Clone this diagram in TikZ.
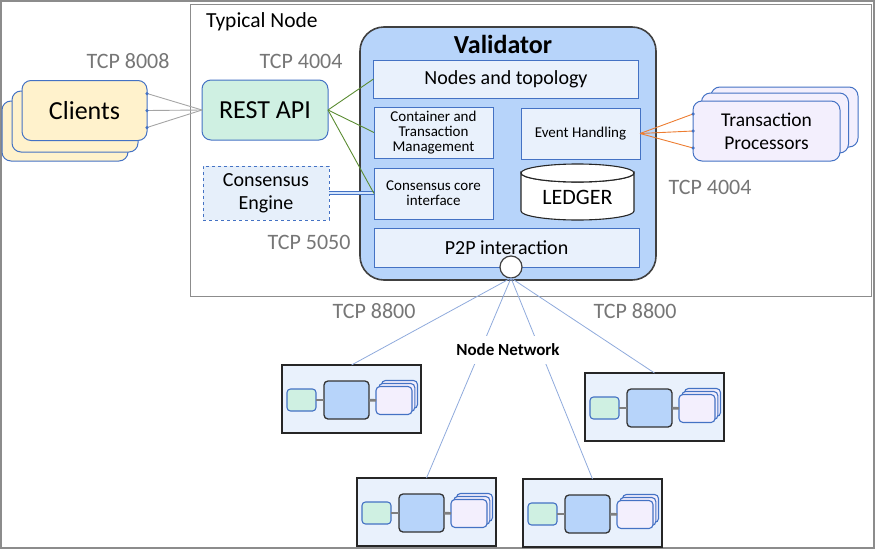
\documentclass[tikz,border=0pt]{standalone}
\usepackage{fontspec}
\setmainfont{Carlito}
\usetikzlibrary{calc}
\definecolor{valfill}{HTML}{B7D4FA}
\definecolor{innerfill}{HTML}{E9F1FC}
\definecolor{boxblue}{HTML}{4472C4}
\definecolor{clientfill}{HTML}{FFF2CC}
\definecolor{restfill}{HTML}{CFF0E2}
\definecolor{tpfill}{HTML}{F3EFFD}
\definecolor{cefill}{HTML}{E6EFFA}
\definecolor{valborder}{HTML}{404040}
\definecolor{tcpgray}{HTML}{767676}
\definecolor{greenline}{HTML}{5B8C32}
\definecolor{orangeline}{HTML}{ED7D31}
\definecolor{clientline}{HTML}{A5A5A5}
\definecolor{netline}{HTML}{8FAADC}
\definecolor{frameg}{HTML}{8C8C8C}
\definecolor{minilinkc}{HTML}{7F7F7F}
\tikzset{
  every node/.style={inner sep=0pt, outer sep=0pt},
  innerbox/.style={draw=boxblue, line width=1pt, fill=innerfill, align=center},
  fbig/.style={font=\fontsize{26}{30}\selectfont},
  fmid/.style={font=\fontsize{20}{24}\selectfont},
  fsmall/.style={font=\fontsize{15}{15}\selectfont},
  tcp/.style={text=tcpgray, font=\fontsize{22}{26}\selectfont},
  clientbox/.style={draw=boxblue, line width=1pt, fill=clientfill, rounded corners=9pt, minimum width=125, minimum height=60},
  tpbox/.style={draw=boxblue, line width=1pt, fill=tpfill, rounded corners=9pt, minimum width=147, minimum height=60, align=center},
  portdot/.style={fill=boxblue, circle, minimum size=3.5pt},
  clink/.style={draw=clientline, line width=0.9pt},
  glink/.style={draw=greenline, line width=0.9pt},
  olink/.style={draw=orangeline, line width=0.9pt},
  nlink/.style={draw=netline, line width=0.8pt},
  minibox/.style={draw=black!85, line width=1.8pt, fill=innerfill},
  minig/.style={draw=boxblue, line width=1.1pt, fill=restfill, rounded corners=3.5pt, minimum width=29, minimum height=22},
  miniv/.style={draw=black!80, line width=1.3pt, fill=valfill, rounded corners=4pt, minimum width=45, minimum height=38},
  minitp/.style={draw=boxblue, line width=1.1pt, fill=tpfill, rounded corners=4pt, minimum width=36, minimum height=28},
  minilink/.style={draw=minilinkc, line width=2.6pt},
  mininode/.pic={
    \node[minibox, anchor=north west, minimum width=139, minimum height=68] (-box) at (0,0) {};
    \node[minitp] (-t3) at (117.5,29.5) {};
    \node[minitp] (-t2) at (114.8,32.5) {};
    \node[minitp] (-t) at (112,35.5) {};
    \node[minig] (-g) at (19.5,35) {};
    \node[miniv] (-v) at (64.5,35) {};
    \draw[minilink] (-g) -- (-v);
    \draw[minilink] (-v) -- (-t);
  }
}
\begin{document}
\begin{tikzpicture}[x=1pt,y=-1pt]
\useasboundingbox (0,0) rectangle (875,549);
\draw[frameg, line width=1.5pt] (1,1) rectangle (874,548);

% Typical node frame
\node[draw=frameg, line width=1pt, minimum width=681, minimum height=292] (tn) at (530.5,150) {};
\node[anchor=west, font=\fontsize{21.5}{25}\selectfont] (tntitle) at (206,22) {Typical Node};

% Validator
\node[draw=valborder, fill=valfill, line width=1.6pt, rounded corners=24pt, minimum width=296, minimum height=253] (val) at (508,153.5) {};
\node[font=\bfseries\fontsize{26}{30}\selectfont] (valtitle) at (503,44) {Validator};
\node[innerbox, fmid, minimum width=265, minimum height=38] (nodes) at (506,79) {Nodes and topology};
\node[innerbox, fsmall, minimum width=119, minimum height=51] (ctm) at (433.5,132.5) {Container and\\Transaction\\Management};
\node[innerbox, fsmall, minimum width=119, minimum height=51] (evt) at (580.5,133.5) {Event Handling};
\node[innerbox, fsmall, minimum width=119, minimum height=51] (cci) at (433.5,193.5) {Consensus core\\interface};
\node[innerbox, fmid, minimum width=265, minimum height=39] (p2p) at (506.5,247.5) {P2P interaction};
% Ledger cylinder
\filldraw[draw=black!85, fill=white, line width=1.1pt] (521,173) -- (521,211) arc[start angle=180, end angle=0, x radius=56.5, y radius=9] -- (634,173) arc[start angle=0, end angle=180, x radius=56.5, y radius=9] -- cycle;
\filldraw[draw=black!85, fill=white, line width=1.1pt] (577.5,173) ellipse[x radius=56.5, y radius=9];
\node[font=\fontsize{22}{26}\selectfont] (ledger) at (577.5,197) {LEDGER};
\node[draw=valborder, fill=white, line width=1.2pt, circle, minimum size=22] (p2pc) at (511,267) {};

% REST API and consensus engine
\node[draw=boxblue, line width=1pt, fill=restfill, rounded corners=9pt, minimum width=126, minimum height=60, fbig] (rest) at (265,110) {REST API};
\node[draw=boxblue, line width=1pt, dashed, fill=cefill, minimum width=126, minimum height=54, align=center, font=\fontsize{20}{23}\selectfont] (ce) at (266,193) {Consensus\\Engine};
\draw[draw=boxblue, line width=0.9pt, double=valfill!60, double distance=1.6pt] (ce.east) -- (ce.east -| cci.west);

% Clients
\node[clientbox, minimum width=126] (clients3) at (65,131) {};
\node[clientbox, minimum width=126, minimum height=61] (clients2) at (75,121.5) {};
\node[clientbox, fbig] (clients) at (84.5,110.5) {Clients};
\coordinate (cp1) at ($(clients.east)+(0,-17)$);
\coordinate (cp2) at (clients.east);
\coordinate (cp3) at ($(clients.east)+(0,17)$);
\draw[clink] (cp1) -- (rest.west);
\draw[clink] (cp2) -- (rest.west);
\draw[clink] (cp3) -- (rest.west);
\node[portdot] (cd1) at (cp1) {};
\node[portdot] (cd2) at (cp2) {};
\node[portdot] (cd3) at (cp3) {};

% green links
\draw[glink] (rest.east) -- (nodes.west);
\draw[glink] (rest.east) -- (ctm.west);
\draw[glink] (rest.east) -- (cci.west);

% Transaction processors
\node[tpbox] (tp3) at (784.5,117) {};
\node[tpbox] (tp2) at (775,123) {};
\node[tpbox, font=\fontsize{19.5}{23}\selectfont] (tp) at (766.5,131) {Transaction\\Processors};
\coordinate (tq1) at ($(tp.west)+(0,-17)$);
\coordinate (tq2) at (tp.west);
\coordinate (tq3) at ($(tp.west)+(0,17)$);
\draw[olink] (evt.east) -- (tq1);
\draw[olink] (evt.east) -- (tq2);
\draw[olink] (evt.east) -- (tq3);
\node[portdot] (td1) at (tq1) {};
\node[portdot] (td2) at (tq2) {};
\node[portdot] (td3) at (tq3) {};

% TCP labels
\node[tcp] (tcp8008) at (128,61) {TCP 8008};
\node[tcp] (tcp4004a) at (301,61) {TCP 4004};
\node[tcp] (tcp4004b) at (710,187) {TCP 4004};
\node[tcp] (tcp5050) at (309,242) {TCP 5050};
\node[tcp] (tcp8800a) at (374,311) {TCP 8800};
\node[tcp] (tcp8800b) at (635,311) {TCP 8800};

% Node network
\pic (sn1) at (282,365) {mininode};
\pic (sn2) at (357,478) {mininode};
\pic (sn3) at (523,479) {mininode};
\pic (sn4) at (585,373) {mininode};
\draw[nlink] (p2pc.south) -- (sn1-box.north);
\draw[nlink] (p2pc.south) -- (sn2-box.north);
\draw[nlink] (p2pc.south) -- (sn3-box.north);
\draw[nlink] (p2pc.south) -- (sn4-box.north);
\node[fill=white, inner sep=3pt, minimum height=28, font=\bfseries\fontsize{17}{20}\selectfont] (nn) at (508,350) {Node Network};
\end{tikzpicture}
\end{document}
